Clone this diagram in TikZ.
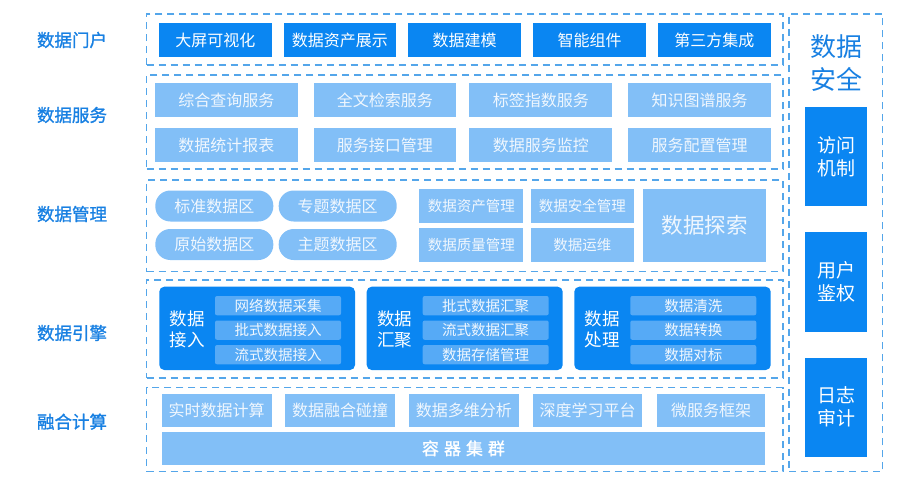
\documentclass[tikz,border=0pt]{standalone}
\usepackage{fontspec}
\setmainfont{Noto Sans CJK SC}
\newfontfamily\cjkbold[FakeBold=1.2]{Noto Sans CJK SC}
\definecolor{dblue}{RGB}{10,134,242}
\definecolor{lblue}{RGB}{130,191,247}
\definecolor{sblue}{RGB}{86,170,246}
\definecolor{dashc}{RGB}{84,166,234}
\definecolor{labc}{RGB}{24,128,226}
\definecolor{ltext}{RGB}{240,247,254}
\newcommand\bx[7]{\node[#6, anchor=north west, minimum width={(#4)-(#2)}, minimum height={(#5)-(#3)}] (#1) at (#2,#3) {#7};}
\tikzset{
  base/.style={inner sep=0pt, outer sep=0pt, align=center},
  frame/.style={base, draw=dashc, line width=1.3pt, dash pattern=on 7pt off 5pt},
  portal/.style={base, fill=dblue, text=white, font=\fontsize{16}{19}\selectfont},
  svc/.style={base, fill=lblue, text=ltext, font=\fontsize{16}{19}\selectfont},
  pill/.style={base, fill=lblue, text=ltext, rounded corners=15pt, font=\fontsize{16}{19}\selectfont},
  mgmt/.style={base, fill=lblue, text=ltext, font=\fontsize{14.5}{17}\selectfont},
  explore/.style={base, fill=lblue, text=ltext, font=\fontsize{21.5}{25}\selectfont},
  engine/.style={base, fill=dblue, rounded corners=5pt},
  sub/.style={base, fill=sblue, text=ltext, rounded corners=2pt, font=\fontsize{14.5}{17}\selectfont},
  englab/.style={base, text=white, font=\fontsize{17.5}{21}\selectfont},
  comp/.style={base, fill=lblue, text=ltext, font=\fontsize{16}{19}\selectfont},
  cont/.style={base, fill=lblue, text=white, font=\cjkbold\fontsize{17}{20}\selectfont},
  sec/.style={base, fill=dblue, text=white, font=\fontsize{19}{23}\selectfont},
  sectitle/.style={base, text=labc, font=\fontsize{26}{33}\selectfont},
  layer/.style={base, text=labc, font=\cjkbold\fontsize{17.5}{20}\selectfont}
}
\begin{document}
\begin{tikzpicture}[x=1pt, y=-1pt]
\useasboundingbox (0,0) rectangle (919,488);
% frames
\bx{fportal}{146.7}{14}{783}{65}{frame}{}
\bx{fsvc}{146.7}{75}{783}{169}{frame}{}
\bx{fmgmt}{146.7}{180}{783}{271.7}{frame}{}
\bx{feng}{146.7}{280}{783}{378}{frame}{}
\bx{fcomp}{146.7}{387.7}{783}{471.7}{frame}{}
\bx{fsec}{789}{14}{882.7}{471.7}{frame}{}
% left labels
\node[layer] (l1) at (72,40) {数据门户};
\node[layer] (l2) at (72,115) {数据服务};
\node[layer] (l3) at (72,214) {数据管理};
\node[layer] (l4) at (72,333) {数据引擎};
\node[layer] (l5) at (72,421.7) {融合计算};
% portal
\bx{p1}{159}{23.3}{271.5}{57.3}{portal}{大屏可视化}
\bx{p2}{283.7}{23.3}{396.2}{57.3}{portal}{数据资产展示}
\bx{p3}{408.3}{23.3}{520.8}{57.3}{portal}{数据建模}
\bx{p4}{533.3}{23.3}{645.8}{57.3}{portal}{智能组件}
\bx{p5}{658}{23.3}{770.7}{57.3}{portal}{第三方集成}
% services
\bx{s1}{155.3}{83.3}{297.5}{117.3}{svc}{综合查询服务}
\bx{s2}{313.7}{83.3}{456}{117.3}{svc}{全文检索服务}
\bx{s3}{469.3}{83.3}{612.3}{117.3}{svc}{标签指数服务}
\bx{s4}{628.3}{83.3}{770.7}{117.3}{svc}{知识图谱服务}
\bx{s5}{155.3}{128.3}{297.5}{162.3}{svc}{数据统计报表}
\bx{s6}{313.7}{128.3}{456}{162.3}{svc}{服务接口管理}
\bx{s7}{469.3}{128.3}{612.3}{162.3}{svc}{数据服务监控}
\bx{s8}{628.3}{128.3}{770.7}{162.3}{svc}{服务配置管理}
% management
\bx{m1}{155.3}{190.5}{273.3}{221.5}{pill}{标准数据区}
\bx{m2}{278.7}{190.5}{396.7}{221.5}{pill}{专题数据区}
\bx{m3}{155.3}{229}{273.3}{260}{pill}{原始数据区}
\bx{m4}{278.7}{229}{396.7}{260}{pill}{主题数据区}
\bx{m5}{419.3}{189}{523.3}{222.7}{mgmt}{数据资产管理}
\bx{m6}{530.7}{189}{634}{222.7}{mgmt}{数据安全管理}
\bx{m7}{419.3}{228.3}{523.3}{261.7}{mgmt}{数据质量管理}
\bx{m8}{530.7}{228.3}{634}{261.7}{mgmt}{数据运维}
\bx{m9}{643.3}{189}{765.7}{261.7}{explore}{数据探索}
% engine
\bx{e1}{159.3}{286.7}{355}{370}{engine}{}
\bx{e2}{366.7}{286.7}{562.7}{370}{engine}{}
\bx{e3}{574.3}{286.7}{770.7}{370}{engine}{}
\node[englab] (e1l) at (187.3,329.5) {数据\\接入};
\node[englab] (e2l) at (394.7,329.5) {数据\\汇聚};
\node[englab] (e3l) at (602.3,329.5) {数据\\处理};
\bx{e1a}{215}{296}{341}{315.3}{sub}{网络数据采集}
\bx{e1b}{215}{320.5}{341}{339.8}{sub}{批式数据接入}
\bx{e1c}{215}{345}{341}{364.3}{sub}{流式数据接入}
\bx{e2a}{422.7}{296}{548.7}{315.3}{sub}{批式数据汇聚}
\bx{e2b}{422.7}{320.5}{548.7}{339.8}{sub}{流式数据汇聚}
\bx{e2c}{422.7}{345}{548.7}{364.3}{sub}{数据存储管理}
\bx{e3a}{630.3}{296}{756.3}{315.3}{sub}{数据清洗}
\bx{e3b}{630.3}{320.5}{756.3}{339.8}{sub}{数据转换}
\bx{e3c}{630.3}{345}{756.3}{364.3}{sub}{数据对标}
% compute
\bx{c1}{161.7}{394}{271.7}{427.3}{comp}{实时数据计算}
\bx{c2}{285}{394}{395.3}{427.3}{comp}{数据融合碰撞}
\bx{c3}{408.7}{394}{519}{427.3}{comp}{数据多维分析}
\bx{c4}{533.3}{394}{641.7}{427.3}{comp}{深度学习平台}
\bx{c5}{657}{394}{765.3}{427.3}{comp}{微服务框架}
\bx{c6}{161.7}{431.7}{765.3}{465}{cont}{容\hspace{5pt}器\hspace{5pt}集\hspace{5pt}群}
% security
\node[sectitle] (st) at (836,63.3) {数据\\安全};
\bx{sa}{805}{107.3}{867.3}{206}{sec}{访问\\机制}
\bx{sb}{805}{232.3}{867.3}{331.7}{sec}{用户\\鉴权}
\bx{sc}{805}{357.7}{867.3}{456.7}{sec}{日志\\审计}
\end{tikzpicture}
\end{document}
